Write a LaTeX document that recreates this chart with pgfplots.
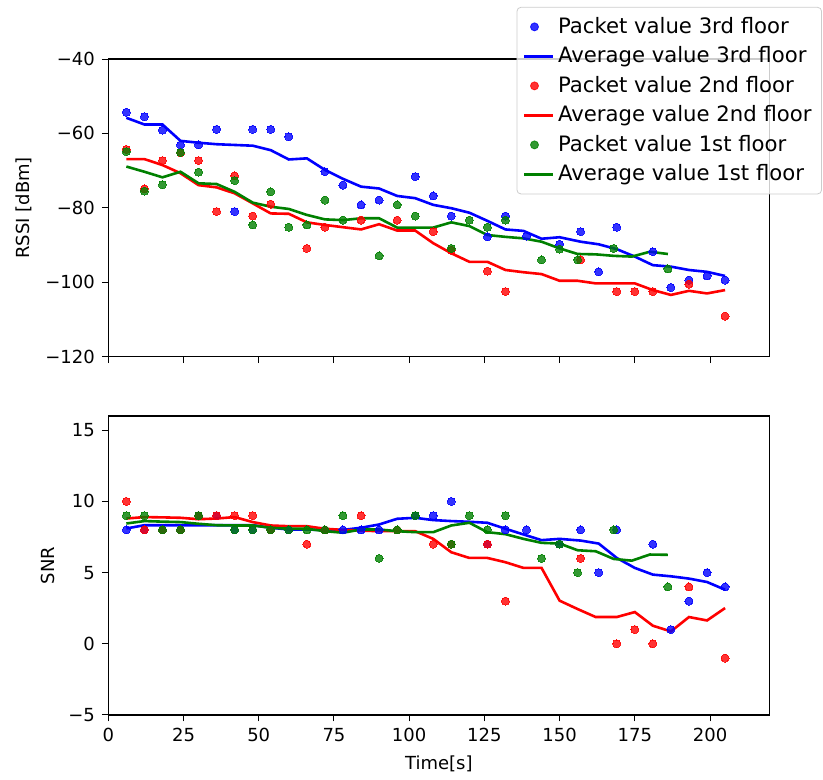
\documentclass[border=0pt]{standalone}
\usepackage{fontspec}
\setmainfont{DejaVu Sans}
\usepackage{pgfplots}
\pgfplotsset{compat=1.18}
\definecolor{mplblue}{rgb}{0,0,1}
\definecolor{mplred}{rgb}{1,0,0}
\definecolor{mplgreen}{rgb}{0,0.5,0}
\pgfplotsset{
  base/.style={
    scale only axis, width=330.5pt,
    xmin=0, xmax=219.7,
    tick align=outside, xtick pos=bottom, ytick pos=left,
    major tick length=3.2pt,
    every tick/.style={black, line width=0.5pt},
    axis line style={line width=0.6pt},
    xtick={0,25,50,75,100,125,150,175,200},
    tick label style={font=\fontsize{9}{11}\selectfont},
    label style={font=\fontsize{9}{11}\selectfont},
    /pgf/number format/assume math mode=true,
    scaled ticks=false,
  },
  dots/.style={only marks, mark=*, mark size=2pt, mark options={fill=#1, draw=#1, line width=0pt, opacity=0.8}},
  avg/.style={#1, line width=1.3pt, no marks},
}
\begin{document}
\begin{tikzpicture}
\useasboundingbox (0,0) rectangle (411.5pt,390pt);
\begin{axis}[base, at={(54.15pt,211.65pt)}, anchor=south west, height=148.85pt,
  ymin=-120, ymax=-40,
  ytick={-120,-100,-80,-60,-40}, yticklabels={−120,−100,−80,−60,−40},
  xticklabels={},
  ylabel={RSSI [dBm]},
  legend cell align=left,
  legend image code/.code={\draw[#1, line width=1.3pt] (0cm,0cm) -- (0.5cm,0cm);},
  legend style={at={(1.0797,1.175)}, anchor=north east, draw=black!20, rounded corners=2pt,
    fill=white, fill opacity=0.8, text opacity=1, font=\fontsize{10.6}{12}\selectfont,
    row sep=1.2pt, inner sep=3pt},
]
\addplot[dots=mplblue, legend image code/.code={\fill[mplblue, opacity=0.8] (0.18cm,0cm) circle (2pt);}] coordinates {(6,-54.3)(12,-55.5)(18,-59.1)(24,-63.1)(30,-63.1)(36,-58.9)(42,-81.0)(48,-58.9)(54,-58.9)(60,-60.9)(72,-70.3)(78,-73.9)(84,-79.2)(90,-77.9)(102,-71.6)(108,-76.8)(114,-82.2)(126,-87.8)(132,-82.2)(139,-87.6)(150,-89.8)(157,-86.4)(163,-97.2)(169,-85.2)(181,-91.8)(187,-101.4)(193,-99.4)(199,-98.3)(205,-99.4)};
\addlegendentry{Packet value 3rd floor}
\addplot[avg=mplblue] coordinates {(6,-55.8)(12,-57.6)(18,-57.6)(24,-62.0)(30,-62.5)(36,-62.9)(42,-63.1)(48,-63.3)(54,-64.5)(60,-67.0)(66,-66.7)(72,-69.8)(78,-72.2)(84,-74.3)(90,-74.8)(96,-76.8)(102,-77.4)(108,-79.2)(114,-80.1)(120,-81.3)(126,-83.5)(132,-85.8)(138,-86.2)(144,-88.3)(150,-87.9)(157,-89.1)(163,-89.8)(169,-91.1)(175,-93.1)(181,-95.4)(187,-95.8)(193,-96.7)(199,-97.2)(205,-98.3)};
\addlegendentry{Average value 3rd floor}
\addplot[dots=mplred, legend image code/.code={\fill[mplred, opacity=0.8] (0.18cm,0cm) circle (2pt);}] coordinates {(6,-64.3)(12,-74.9)(18,-67.3)(24,-65.2)(30,-67.3)(36,-81.0)(42,-71.4)(48,-82.2)(54,-79.0)(66,-90.9)(72,-85.2)(84,-83.3)(96,-83.3)(108,-86.4)(114,-91.4)(126,-97.0)(132,-102.5)(157,-94.0)(169,-102.5)(175,-102.5)(181,-102.5)(193,-100.5)(205,-109.1)};
\addlegendentry{Packet value 2nd floor}
\addplot[avg=mplred] coordinates {(6,-66.9)(12,-66.9)(18,-68.5)(24,-70.7)(30,-73.9)(36,-74.5)(42,-76.1)(48,-78.8)(54,-81.5)(60,-81.6)(66,-83.9)(72,-84.6)(78,-85.2)(84,-85.8)(90,-84.4)(96,-86.1)(102,-86.1)(108,-89.5)(114,-92.2)(120,-94.5)(126,-94.5)(132,-96.7)(138,-97.3)(144,-97.8)(150,-99.6)(156,-99.6)(162,-100.3)(168,-100.3)(175,-100.3)(181,-102.1)(187,-103.4)(193,-102.3)(199,-103.0)(205,-102.1)};
\addlegendentry{Average value 2nd floor}
\addplot[dots=mplgreen, legend image code/.code={\fill[mplgreen, opacity=0.8] (0.18cm,0cm) circle (2pt);}] coordinates {(6,-64.9)(12,-75.5)(18,-73.8)(24,-65.1)(30,-70.4)(42,-72.7)(48,-84.6)(54,-75.7)(60,-85.2)(66,-84.6)(72,-77.9)(78,-83.3)(90,-92.9)(96,-79.2)(102,-82.2)(114,-90.9)(120,-83.3)(126,-85.2)(132,-83.3)(144,-94.0)(150,-91.1)(156,-94.0)(168,-90.9)(186,-96.4)};
\addlegendentry{Packet value 1st floor}
\addplot[avg=mplgreen] coordinates {(6,-68.9)(12,-70.3)(18,-71.8)(24,-70.3)(30,-73.4)(36,-73.6)(42,-75.7)(48,-78.6)(54,-79.7)(60,-80.3)(66,-81.9)(72,-83.1)(78,-83.3)(84,-82.8)(90,-82.8)(96,-85.3)(102,-85.3)(108,-85.3)(114,-83.9)(120,-84.9)(126,-87.3)(132,-87.8)(138,-88.2)(144,-89.1)(150,-90.9)(156,-92.4)(162,-92.5)(168,-92.9)(174,-93.1)(180,-91.8)(186,-92.4)};
\addlegendentry{Average value 1st floor}
\end{axis}
\begin{axis}[base, at={(54.15pt,32.5pt)}, anchor=south west, height=149.5pt,
  ymin=-5, ymax=16,
  ytick={-5,0,5,10,15}, yticklabels={−5,0,5,10,15},
  xticklabels={0,25,50,75,100,125,150,175,200},
  ylabel={SNR}, xlabel={Time[s]},
]
\addplot[dots=mplblue] coordinates {(6,8)(12,8)(18,8)(24,8)(30,9)(36,9)(42,8)(48,8)(54,8)(60,8)(72,8)(78,8)(84,8)(90,8)(102,9)(108,9)(114,10)(126,7)(132,8)(139,8)(150,7)(157,8)(163,5)(169,8)(181,7)(187,1)(193,3)(199,5)(205,4)};
\addplot[avg=mplblue] coordinates {(6,8.1)(12,8.33)(18,8.33)(24,8.33)(30,8.33)(36,8.33)(42,8.33)(48,8.33)(54,8.15)(60,8.03)(66,8.03)(72,7.98)(78,8.0)(84,8.15)(90,8.38)(96,8.78)(102,8.85)(108,8.69)(114,8.62)(120,8.57)(126,8.5)(132,8.08)(138,7.68)(144,7.28)(150,7.37)(157,7.25)(163,7.04)(169,6.03)(175,5.33)(181,4.86)(187,4.74)(193,4.58)(199,4.34)(205,3.8)};
\addplot[dots=mplred] coordinates {(6,10)(12,8)(18,8)(24,8)(30,9)(36,9)(42,9)(48,9)(54,8)(66,7)(72,8)(84,9)(96,8)(108,7)(114,7)(126,7)(132,3)(157,6)(169,0)(175,1)(181,0)(193,4)(205,-1)};
\addplot[avg=mplred] coordinates {(6,8.8)(12,8.9)(18,8.88)(24,8.85)(30,8.75)(36,8.8)(42,8.9)(48,8.55)(54,8.31)(60,8.26)(66,8.26)(72,8.08)(78,8.0)(84,7.95)(90,7.91)(96,7.91)(102,7.91)(108,7.37)(114,6.43)(120,6.03)(126,6.03)(132,5.73)(138,5.33)(144,5.33)(150,3.03)(156,2.44)(162,1.88)(169,1.88)(175,2.23)(181,1.27)(187,0.87)(193,1.88)(199,1.64)(205,2.51)};
\addplot[dots=mplgreen] coordinates {(6,9)(12,9)(18,8)(24,8)(30,9)(42,8)(48,8)(54,8)(60,8)(66,8)(72,8)(78,9)(90,6)(96,8)(102,9)(114,7)(120,9)(126,8)(132,9)(144,6)(150,7)(156,5)(168,8)(186,4)};
\addplot[avg=mplgreen] coordinates {(6,8.45)(12,8.62)(18,8.58)(24,8.55)(30,8.43)(36,8.33)(42,8.31)(48,8.31)(54,8.15)(60,8.08)(66,8.08)(72,7.91)(78,7.8)(84,8.03)(90,8.03)(96,7.91)(102,7.84)(108,7.84)(114,8.31)(120,8.5)(126,7.84)(132,7.7)(138,7.37)(144,7.09)(150,7.04)(156,6.57)(162,6.5)(168,5.96)(174,5.84)(180,6.27)(186,6.25)};
\end{axis}
\end{tikzpicture}
\end{document}
